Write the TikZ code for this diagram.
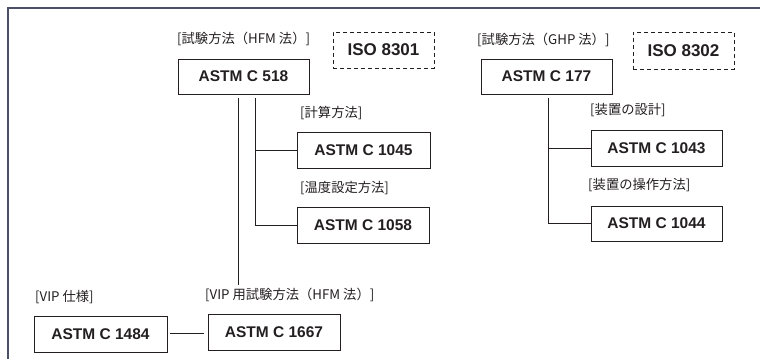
\documentclass[tikz,border=0pt]{standalone}
\usepackage{fontspec}
\usetikzlibrary{calc}
\setmainfont{Liberation Sans}
\newfontfamily\jpfont{Noto Sans CJK JP}
\definecolor{framecol}{HTML}{4B4F69}
\definecolor{ink}{HTML}{231F20}
\tikzset{
  stdbox/.style={draw=ink, line width=1pt, minimum width=131pt, minimum height=35pt, inner sep=0pt,
    font=\fontsize{15.5}{15.5}\selectfont\bfseries, text=ink},
  isobox/.style={draw=ink, line width=1pt, dashed, dash pattern=on 4pt off 3pt, minimum width=101pt, minimum height=36pt, inner sep=0pt,
    font=\fontsize{17}{17}\selectfont\bfseries, text=ink},
  lbl/.style={anchor=west, inner sep=0pt, font=\jpfont\fontsize{13.3}{13.3}\selectfont, text=ink},
  conn/.style={draw=ink, line width=0.9pt},
  frame/.style={draw=framecol, line width=1.5pt}
}
\begin{document}
\begin{tikzpicture}[x=1pt,y=-1pt]
\useasboundingbox (0,0) rectangle (763,359);
\draw[frame] (8,358.5) -- (8,8) -- (760,8);

% left group
\node[lbl] (l1) at (177,39) {[試験方法（HFM 法）]};
\node[stdbox] (c518) at (243.5,76.5) {ASTM C 518};
\node[isobox] (iso1) at (383.5,50) {ISO 8301};
\node[lbl] (l3) at (300,113) {[計算方法]};
\node[stdbox, minimum width=133pt, minimum height=36pt] (c1045) at (363.5,150) {ASTM C 1045};
\node[lbl] (l4) at (300,188) {[温度設定方法]};
\node[stdbox, minimum width=132pt, minimum height=36pt] (c1058) at (363,225) {ASTM C 1058};

% right group
\node[lbl] (l2) at (477,40) {[試験方法（GHP 法）]};
\node[stdbox] (c177) at (546.5,76.5) {ASTM C 177};
\node[isobox, minimum height=37pt] (iso2) at (683.5,50.5) {ISO 8302};
\node[lbl] (l5) at (590,110) {[装置の設計]};
\node[stdbox, minimum height=36pt] (c1043) at (656.5,148) {ASTM C 1043};
\node[lbl] (l6) at (588,185) {[装置の操作方法]};
\node[stdbox] (c1044) at (656.5,223.5) {ASTM C 1044};

% bottom group
\node[lbl] (l7) at (35,297) {[VIP 仕様]};
\node[stdbox, minimum width=133pt, minimum height=36pt] (c1484) at (100.5,334) {ASTM C 1484};
\node[lbl] (l8) at (205,295) {[VIP 用試験方法（HFM 法）]};
\node[stdbox, minimum width=132pt, minimum height=36pt] (c1667) at (274,332) {ASTM C 1667};

% connectors
\coordinate (t1) at ($(c518.south)+(-5.5,3.5)$);
\coordinate (t1end) at (238,285);
\draw[conn] (t1) -- (t1end);
\coordinate (s1) at ($(c518.south)+(11.5,3.5)$);
\draw[conn] (s1) |- (c1058.west);
\draw[conn] (c1045.west) -- (s1 |- c1045.west);

\coordinate (s2) at ($(c177.south)+(1.5,3)$);
\draw[conn] (s2) |- (c1044.west);
\draw[conn] (c1043.west) -- (s2 |- c1043.west);

\draw[conn] ($(c1484.east)+(2.5,-1)$) -- ($(c1667.west)+(-3.5,1)$);
\end{tikzpicture}
\end{document}
